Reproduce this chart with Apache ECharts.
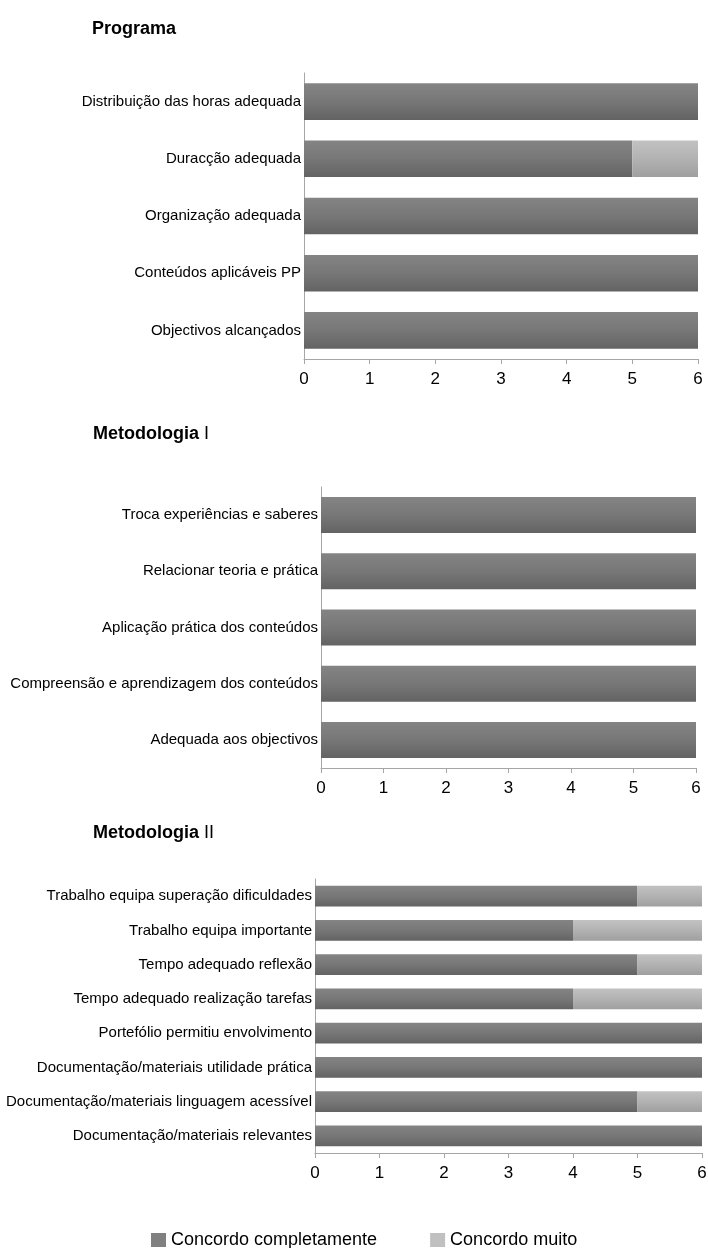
<!DOCTYPE html>
<html>
<head>
<meta charset="utf-8">
<script src="https://cdn.jsdelivr.net/npm/echarts@6/dist/echarts.min.js"></script>
<style>
  html, body { margin: 0; padding: 0; background: #fff; }
  #chart { width: 708px; height: 1248px; }
</style>
</head>
<body>
<div id="chart"></div>
<script>
// Series names
const seriesNames = ['Concordo completamente', 'Concordo muito'];

// Panel 1: Programa (listed bottom to top)
const programaCats = ['Objectivos alcançados', 'Conteúdos aplicáveis PP', 'Organização adequada', 'Duracção adequada', 'Distribuição das horas adequada'];
const programaCompletamente = [6, 6, 6, 5, 6];
const programaMuito = [0, 0, 0, 1, 0];

// Panel 2: Metodologia I
const metodo1Cats = ['Adequada aos objectivos', 'Compreensão e aprendizagem dos conteúdos', 'Aplicação prática dos conteúdos', 'Relacionar teoria e prática', 'Troca experiências e saberes'];
const metodo1Completamente = [6, 6, 6, 6, 6];
const metodo1Muito = [0, 0, 0, 0, 0];

// Panel 3: Metodologia II
const metodo2Cats = ['Documentação/materiais relevantes', 'Documentação/materiais linguagem acessível', 'Documentação/materiais utilidade prática', 'Portefólio permitiu envolvimento', 'Tempo adequado realização tarefas', 'Tempo adequado reflexão', 'Trabalho equipa importante', 'Trabalho equipa superação dificuldades'];
const metodo2Completamente = [6, 5, 6, 6, 4, 5, 4, 5];
const metodo2Muito = [0, 1, 0, 0, 2, 1, 2, 1];

const xTicks = ['0', '1', '2', '3', '4', '5', '6'];

const FONT = '"Liberation Sans Narrow", "Liberation Sans", Arial, sans-serif';
const WIDE = '"Liberation Sans", Arial, sans-serif';

const darkFill = new echarts.graphic.LinearGradient(0, 0, 0, 1, [
  { offset: 0, color: '#848484' },
  { offset: 0.5, color: '#777777' },
  { offset: 1, color: '#636363' }
]);
const lightFill = new echarts.graphic.LinearGradient(0, 0, 0, 1, [
  { offset: 0, color: '#c2c2c2' },
  { offset: 0.5, color: '#b2b2b2' },
  { offset: 1, color: '#9f9f9f' }
]);

const panels = [
  { cats: programaCats, a: programaCompletamente, b: programaMuito, grid: { left: 304, right: 10, top: 73, height: 286 } },
  { cats: metodo1Cats, a: metodo1Completamente, b: metodo1Muito, grid: { left: 321, right: 12, top: 487, height: 281 } },
  { cats: metodo2Cats, a: metodo2Completamente, b: metodo2Muito, grid: { left: 315, right: 6, top: 879, height: 274 } }
];

const grids = [], xAxes = [], yAxes = [], series = [];
panels.forEach((p, i) => {
  grids.push(Object.assign({ containLabel: false, outerBoundsMode: 'none' }, p.grid));
  xAxes.push({
    type: 'value', gridIndex: i, min: 0, max: 6, interval: 1,
    axisLine: { show: true, lineStyle: { color: '#a6a6a6', width: 1 } },
    axisTick: { show: true, length: 5, lineStyle: { color: '#a6a6a6' } },
    splitLine: { show: false },
    axisLabel: { color: '#000', fontFamily: FONT, fontSize: 17, margin: 12,
      formatter: v => xTicks[v] }
  });
  yAxes.push({
    type: 'category', gridIndex: i, data: p.cats,
    axisLine: { show: true, lineStyle: { color: '#a6a6a6', width: 1 } },
    axisTick: { show: false },
    axisLabel: { color: '#000', fontFamily: FONT, fontSize: 15, margin: 3 }
  });
  const bw = i === 2 ? '61%' : '64%';
  series.push({
    name: seriesNames[0], type: 'bar', stack: 's' + i, xAxisIndex: i, yAxisIndex: i,
    data: p.a, barWidth: bw, itemStyle: { color: darkFill }
  });
  series.push({
    name: seriesNames[1], type: 'bar', stack: 's' + i, xAxisIndex: i, yAxisIndex: i,
    data: p.b, barWidth: bw, itemStyle: { color: lightFill }
  });
});

const titleRich = {
  b: { fontFamily: WIDE, fontWeight: 'bold', fontSize: 18, color: '#000' },
  n: { fontFamily: WIDE, fontWeight: 'normal', fontSize: 18, color: '#000' }
};

const option = {
  animation: false,
  backgroundColor: '#fff',
  title: [
    { text: '{b|Programa}', left: 87, top: 15, textStyle: { rich: titleRich } },
    { text: '{b|Metodologia} {n|I}', left: 88, top: 420, textStyle: { rich: titleRich } },
    { text: '{b|Metodologia} {n|II}', left: 88, top: 819, textStyle: { rich: titleRich } }
  ],
  legend: {
    left: 146, top: 1226, itemWidth: 15, itemHeight: 14, itemGap: 53,
    icon: 'rect',
    textStyle: { fontFamily: FONT, fontSize: 18, color: '#000' },
    data: [
      { name: seriesNames[0], itemStyle: { color: '#808080' } },
      { name: seriesNames[1], itemStyle: { color: '#c0c0c0' } }
    ]
  },
  grid: grids,
  xAxis: xAxes,
  yAxis: yAxes,
  series: series
};

echarts.init(document.getElementById('chart')).setOption(option);
</script>
</body>
</html>
